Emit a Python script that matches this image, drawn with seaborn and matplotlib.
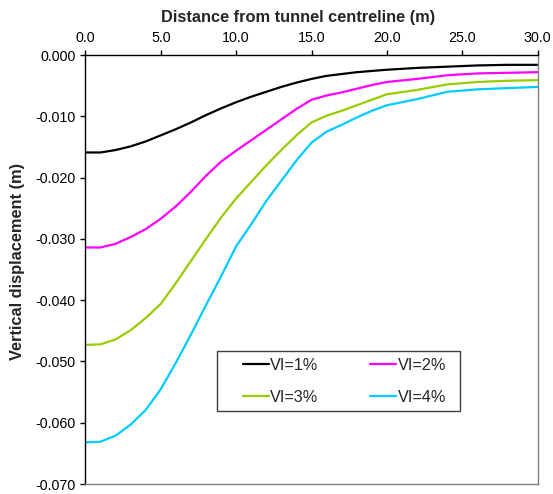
import matplotlib
matplotlib.use("Agg")
import matplotlib.pyplot as plt
import seaborn as sns
import pandas as pd
from matplotlib.ticker import FuncFormatter, MultipleLocator

distance = [0, 1, 2, 3, 4, 5, 6, 7, 8, 9, 10, 11, 12, 13, 14, 15, 16, 17, 18, 19, 20, 22, 24, 26, 28, 30]
vl1 = [-0.0159, -0.0159, -0.0155, -0.0149, -0.0141, -0.0131, -0.0121, -0.0110, -0.0098, -0.0087,
       -0.0077, -0.0068, -0.0060, -0.0052, -0.0045, -0.0039, -0.0034, -0.0031, -0.0028, -0.0026,
       -0.0024, -0.0021, -0.0019, -0.0017, -0.0016, -0.0016]
vl2 = [-0.0314, -0.0314, -0.0308, -0.0297, -0.0284, -0.0267, -0.0247, -0.0223, -0.0197, -0.0174,
       -0.0156, -0.0139, -0.0122, -0.0105, -0.0088, -0.0073, -0.0066, -0.0061, -0.0055, -0.0049,
       -0.0044, -0.0039, -0.0033, -0.0030, -0.0029, -0.0028]
vl3 = [-0.0473, -0.0472, -0.0464, -0.0449, -0.0429, -0.0406, -0.0372, -0.0336, -0.0300, -0.0265,
       -0.0234, -0.0207, -0.0180, -0.0155, -0.0131, -0.0110, -0.0099, -0.0091, -0.0082, -0.0073,
       -0.0064, -0.0057, -0.0048, -0.0044, -0.0042, -0.0041]
vl4 = [-0.0632, -0.0631, -0.0621, -0.0603, -0.0579, -0.0545, -0.0502, -0.0456, -0.0408, -0.0361,
       -0.0312, -0.0276, -0.0238, -0.0205, -0.0172, -0.0143, -0.0125, -0.0114, -0.0102, -0.0091,
       -0.0082, -0.0072, -0.0060, -0.0056, -0.0054, -0.0052]
series_names = ["VI=1%", "VI=2%", "VI=3%", "VI=4%"]
series_colors = ["#000000", "#FF00FF", "#99CC00", "#00CCFF"]

rows = []
for name, vals in zip(series_names, [vl1, vl2, vl3, vl4]):
    for d, v in zip(distance, vals):
        rows.append({"Distance": d, "Displacement": v, "Series": name})
df = pd.DataFrame(rows)

sns.set_theme(style="white")
plt.rcParams["font.family"] = ["Liberation Sans", "DejaVu Sans"]
plt.rcParams["axes.unicode_minus"] = False

fig = plt.figure(figsize=(5.53, 4.94), dpi=100)
ax = fig.add_axes([0.1546, 0.0202, 0.8174, 0.8684])

sns.lineplot(data=df, x="Distance", y="Displacement", hue="Series",
             palette=dict(zip(series_names, series_colors)), linewidth=1.6, ax=ax)

ax.set_xlim(0, 30)
ax.set_ylim(-0.070, 0.0)
ax.xaxis.set_major_locator(MultipleLocator(5))
ax.yaxis.set_major_locator(MultipleLocator(0.01))
ax.xaxis.set_major_formatter(FuncFormatter(lambda v, p: f"{v:.1f}"))
ax.yaxis.set_major_formatter(FuncFormatter(lambda v, p: f"{v:.3f}".replace("-0.000", "0.000")))

ax.xaxis.tick_top()
ax.xaxis.set_label_position("top")
ax.set_xlabel("Distance from tunnel centreline (m)", fontsize=11.8, fontweight="bold")
ax.set_ylabel("Vertical displacement (m)", fontsize=11.8, fontweight="bold")
ax.xaxis.set_label_coords(0.470, 1.078)
ax.yaxis.set_label_coords(-0.134, 0.520)

ax.tick_params(axis="x", direction="out", length=3.6, width=1, colors="black", labelsize=10.3, pad=3.5, top=True, bottom=False)
ax.tick_params(axis="y", direction="out", length=3.6, width=1, colors="black", labelsize=10.3, pad=3.5, left=True)

for side in ["left", "top"]:
    ax.spines[side].set_color("black")
    ax.spines[side].set_linewidth(1.0)
for side in ["right", "bottom"]:
    ax.spines[side].set_color("#808080")
    ax.spines[side].set_linewidth(1.0)
    ax.spines[side].set_visible(True)

old = ax.get_legend()
handles = list(old.legend_handles)
labels = [t.get_text() for t in old.get_texts()]
old.remove()
order = [0, 2, 1, 3]  # row-wise: 1%, 2% / 3%, 4%
handles = [handles[i] for i in order]
labels = [labels[i] for i in order]

leg = ax.legend(handles, labels, loc="center", bbox_to_anchor=(0.5727, 0.2395), ncol=2, fontsize=11.7,
                frameon=True, fancybox=False, edgecolor="#404040", framealpha=1,
                handlelength=1.6, handletextpad=0.1, columnspacing=3.16,
                labelspacing=1.08, borderpad=0.39)
leg.get_frame().set_linewidth(1.0)
for line in leg.get_lines():
    line.set_linewidth(1.6)

# widen the frame horizontally (Excel-style padding: wider on the left)
_orig_set_bounds = leg.legendPatch.set_bounds
def _padded_bounds(*args):
    if len(args) == 1:
        l, b, w, h = args[0]
    else:
        l, b, w, h = args
    padl, padr = 19.5, 7.5
    _orig_set_bounds(l - padl, b, w + padl + padr, h)
leg.legendPatch.set_bounds = _padded_bounds

fig.savefig("out.png", dpi=100)
